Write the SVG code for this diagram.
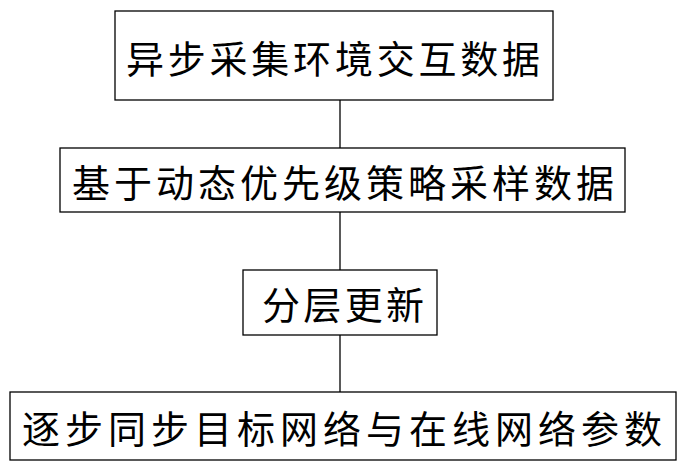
<svg xmlns="http://www.w3.org/2000/svg" width="686" height="471" viewBox="0 0 686 471">
<style>
rect{fill:#fff;stroke:#000;stroke-width:1.3}
text{font-family:"Noto Sans CJK SC",sans-serif;font-size:38px;text-anchor:middle;dominant-baseline:central;fill:#000}
line{stroke:#000;stroke-width:1.3}
</style>
<rect x="0" y="0" width="686" height="471" style="stroke:none"/>
<g id="connectors">
<line x1="340" y1="100" x2="340" y2="148"/>
<line x1="340" y1="212" x2="340" y2="270"/>
<line x1="340" y1="335" x2="340" y2="392"/>
</g>
<g id="n1"><rect x="115" y="11" width="438" height="89"/><text x="333" y="56" textLength="414">异步采集环境交互数据</text></g>
<g id="n2"><rect x="60" y="148" width="565" height="64"/><text x="343" y="180" textLength="542">基于动态优先级策略采样数据</text></g>
<g id="n3"><rect x="243" y="270" width="194" height="65"/><text x="343" y="302" textLength="162">分层更新</text></g>
<g id="n4"><rect x="10" y="392" width="666" height="68"/><text x="342" y="426" textLength="640">逐步同步目标网络与在线网络参数</text></g>
</svg>
